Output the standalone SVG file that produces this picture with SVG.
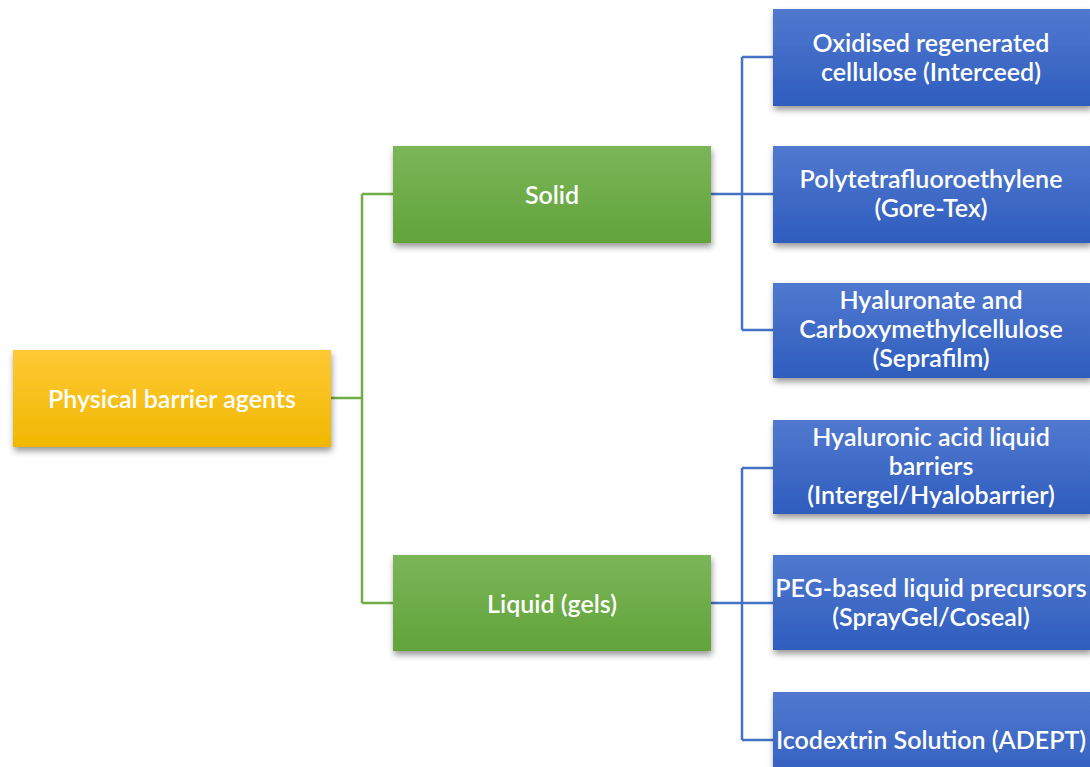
<svg xmlns="http://www.w3.org/2000/svg" width="1090" height="767" viewBox="0 0 1090 767">
<style>
.t{font-family:Lato,"Open Sans","Liberation Sans",sans-serif;font-size:25px;font-weight:600;fill:#fff;text-anchor:middle;dominant-baseline:central}
.g{fill:none;stroke:#70AD47;stroke-width:2.5}
.b{fill:none;stroke:#4472C4;stroke-width:2.5}
</style>
<defs>
<linearGradient id="gy" x1="0" y1="0" x2="0" y2="1"><stop offset="0" stop-color="#FFC936"/><stop offset="1" stop-color="#F0B800"/></linearGradient>
<linearGradient id="gg" x1="0" y1="0" x2="0" y2="1"><stop offset="0" stop-color="#7AB658"/><stop offset="1" stop-color="#62A33A"/></linearGradient>
<linearGradient id="gb" x1="0" y1="0" x2="0" y2="1"><stop offset="0" stop-color="#5079CF"/><stop offset="1" stop-color="#2F5DBE"/></linearGradient>
<filter id="sh" x="-10%" y="-10%" width="130%" height="140%"><feDropShadow dx="1" dy="4" stdDeviation="3" flood-color="#000" flood-opacity="0.4"/></filter>
</defs>
<rect width="1090" height="767" fill="#fff"/>
<g id="connectors">
<path class="g" d="M331 398H362M362 194V603M362 194H393M362 603H393"/>
<path class="b" d="M711 194H742M742 57V330M742 57H773M742 194H773M742 330H773"/>
<path class="b" d="M711 603H742M742 468V740M742 468H773M742 603H773M742 740H773"/>
</g>
<g id="root"><rect x="13" y="350" width="318" height="97" fill="url(#gy)" filter="url(#sh)"/><text class="t" x="172" y="398">Physical barrier agents</text></g>
<g id="solid"><rect x="393" y="146" width="318" height="97" fill="url(#gg)" filter="url(#sh)"/><text class="t" x="552" y="194">Solid</text></g>
<g id="liquid"><rect x="393" y="555" width="318" height="96" fill="url(#gg)" filter="url(#sh)"/><text class="t" x="552" y="603">Liquid (gels)</text></g>
<g id="oxidised"><rect x="773" y="9" width="318" height="97" fill="url(#gb)" filter="url(#sh)"/><text class="t" x="931" y="42">Oxidised regenerated</text><text class="t" x="931" y="71">cellulose (Interceed)</text></g>
<g id="ptfe"><rect x="773" y="146" width="318" height="97" fill="url(#gb)" filter="url(#sh)"/><text class="t" x="931" y="178">Polytetrafluoroethylene</text><text class="t" x="931" y="207">(Gore-Tex)</text></g>
<g id="seprafilm"><rect x="773" y="283" width="318" height="95" fill="url(#gb)" filter="url(#sh)"/><text class="t" x="931" y="299">Hyaluronate and</text><text class="t" x="931" y="328">Carboxymethylcellulose</text><text class="t" x="931" y="357">(Seprafilm)</text></g>
<g id="hyaluronic"><rect x="773" y="420" width="318" height="94" fill="url(#gb)" filter="url(#sh)"/><text class="t" x="931" y="436">Hyaluronic acid liquid</text><text class="t" x="931" y="465">barriers</text><text class="t" x="931" y="494">(Intergel/Hyalobarrier)</text></g>
<g id="peg"><rect x="773" y="555" width="318" height="95" fill="url(#gb)" filter="url(#sh)"/><text class="t" x="931" y="587">PEG-based liquid precursors</text><text class="t" x="931" y="616">(SprayGel/Coseal)</text></g>
<g id="icodextrin"><rect x="773" y="692" width="318" height="95" fill="url(#gb)" filter="url(#sh)"/><text class="t" x="931" y="739">Icodextrin Solution (ADEPT)</text></g>
</svg>
